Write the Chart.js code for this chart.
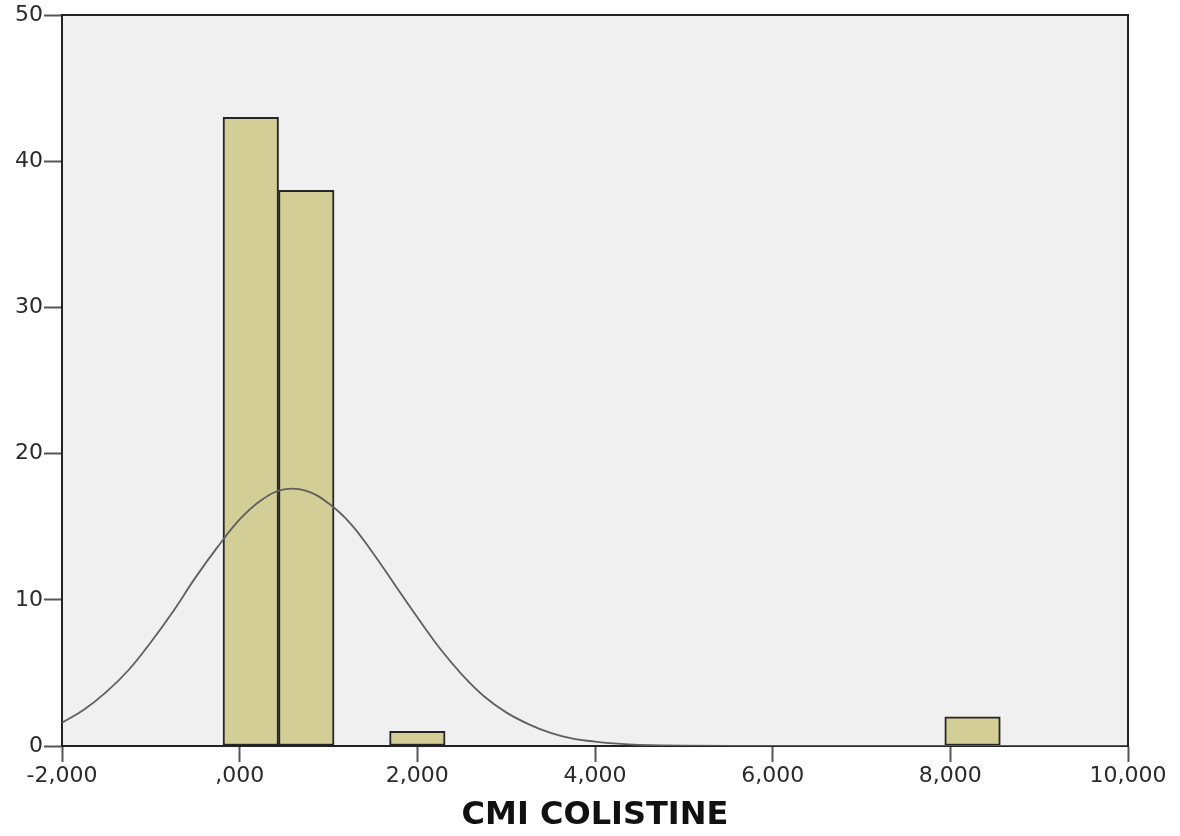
<!DOCTYPE html>
<html>
<head>
<meta charset="utf-8">
<title>CMI COLISTINE</title>
<script src="https://cdn.jsdelivr.net/npm/chart.js@4.4.1/dist/chart.umd.min.js"></script>
<style>
  html, body { margin: 0; padding: 0; background: #ffffff; }
  #wrap { width: 1180px; height: 836px; }
</style>
</head>
<body>
<div id="wrap"><canvas id="histChart" width="1180" height="836"></canvas></div>
<script>
// histogram bins (centres) and counts
const binCenters = [125, 750, 2000, 8250];
const binCounts = [43, 38, 1, 2];

// normal curve
const curveX = [-2000, -1750, -1500, -1250, -1000, -750, -500, -250, 0, 250, 500, 750, 1000, 1250, 1500, 1750, 2000, 2250, 2500, 2750, 3000, 3250, 3500, 3750, 4000, 4250, 4500, 5000, 6000, 7000, 8000, 9000, 10000];
const curveY = [1.6, 2.5, 3.7, 5.2, 7.1, 9.2, 11.5, 13.6, 15.5, 16.85, 17.55, 17.45, 16.6, 15.2, 13.2, 11.0, 8.8, 6.7, 4.9, 3.4, 2.3, 1.5, 0.9, 0.5, 0.3, 0.16, 0.08, 0.02, 0, 0, 0, 0, 0];

// tick labels
const xTickLabels = ["-2,000", ",000", "2,000", "4,000", "6,000", "8,000", "10,000"];
const yTickLabels = ["0", "10", "20", "30", "40", "50"];

const axisColor = "#222222";
const tickFont = { family: "DejaVu Sans", size: 22 };

// plot background + top/right frame like SPSS
const framePlugin = {
  id: "frame",
  beforeDraw(chart) {
    const { ctx, chartArea } = chart;
    ctx.save();
    ctx.fillStyle = "#f0f0f0";
    ctx.fillRect(chartArea.left, chartArea.top, chartArea.right - chartArea.left, chartArea.bottom - chartArea.top);
    ctx.restore();
  },
  afterDraw(chart) {
    const { ctx, chartArea } = chart;
    ctx.save();
    ctx.strokeStyle = axisColor;
    ctx.lineWidth = 2;
    ctx.beginPath();
    ctx.moveTo(chartArea.left, chartArea.top);
    ctx.lineTo(chartArea.right, chartArea.top);
    ctx.lineTo(chartArea.right, chartArea.bottom);
    ctx.stroke();
    ctx.restore();
  },
};

const ctx = document.getElementById("histChart").getContext("2d");

new Chart(ctx, {
  type: "bar",
  data: {
    datasets: [
      {
        type: "line",
        data: curveX.map((x, i) => ({ x, y: curveY[i] })),
        borderColor: "#5f5f5f",
        borderWidth: 1.8,
        pointRadius: 0,
        tension: 0.4,
        fill: false,
        order: 0,
      },
      {
        type: "bar",
        data: binCenters.map((x, i) => ({ x, y: binCounts[i] })),
        backgroundColor: "#d3ce96",
        borderColor: "#262626",
        borderWidth: 2,
        borderSkipped: false,
        barPercentage: 1,
        categoryPercentage: 1,
        order: 1,
      },
    ],
  },
  options: {
    responsive: false,
    animation: false,
    layout: { padding: { left: 0, top: 15, right: 52, bottom: 0 } },
    plugins: {
      legend: { display: false },
      tooltip: { enabled: false },
    },
    scales: {
      x: {
        type: "linear",
        offset: false,
        min: -2000,
        max: 10000,
        afterFit(scale) {
          scale.height = 90;
        },
        grid: {
          offset: false,
          drawOnChartArea: false,
          drawTicks: true,
          tickLength: 16,
          tickColor: "#555555",
          tickWidth: 2,
        },
        border: { display: true, color: axisColor, width: 2 },
        ticks: {
          stepSize: 2000,
          autoSkip: false,
          maxRotation: 0,
          padding: 1,
          color: "#2a2a2a",
          font: tickFont,
          callback: (value, index) => xTickLabels[index],
        },
        title: {
          display: true,
          text: "CMI COLISTINE",
          color: "#111111",
          font: { family: "DejaVu Sans", size: 32, weight: "bold" },
          padding: { top: 0, bottom: 1 },
        },
      },
      y: {
        min: 0,
        max: 50,
        afterFit(scale) {
          scale.width = 62;
        },
        grid: {
          drawOnChartArea: false,
          drawTicks: true,
          tickLength: 18,
          tickColor: "#555555",
          tickWidth: 2,
        },
        border: { display: true, color: axisColor, width: 2 },
        ticks: {
          stepSize: 10,
          padding: 1,
          color: "#2a2a2a",
          font: tickFont,
          callback: (value, index) => yTickLabels[index],
        },
      },
    },
  },
  plugins: [framePlugin],
});
</script>
</body>
</html>
